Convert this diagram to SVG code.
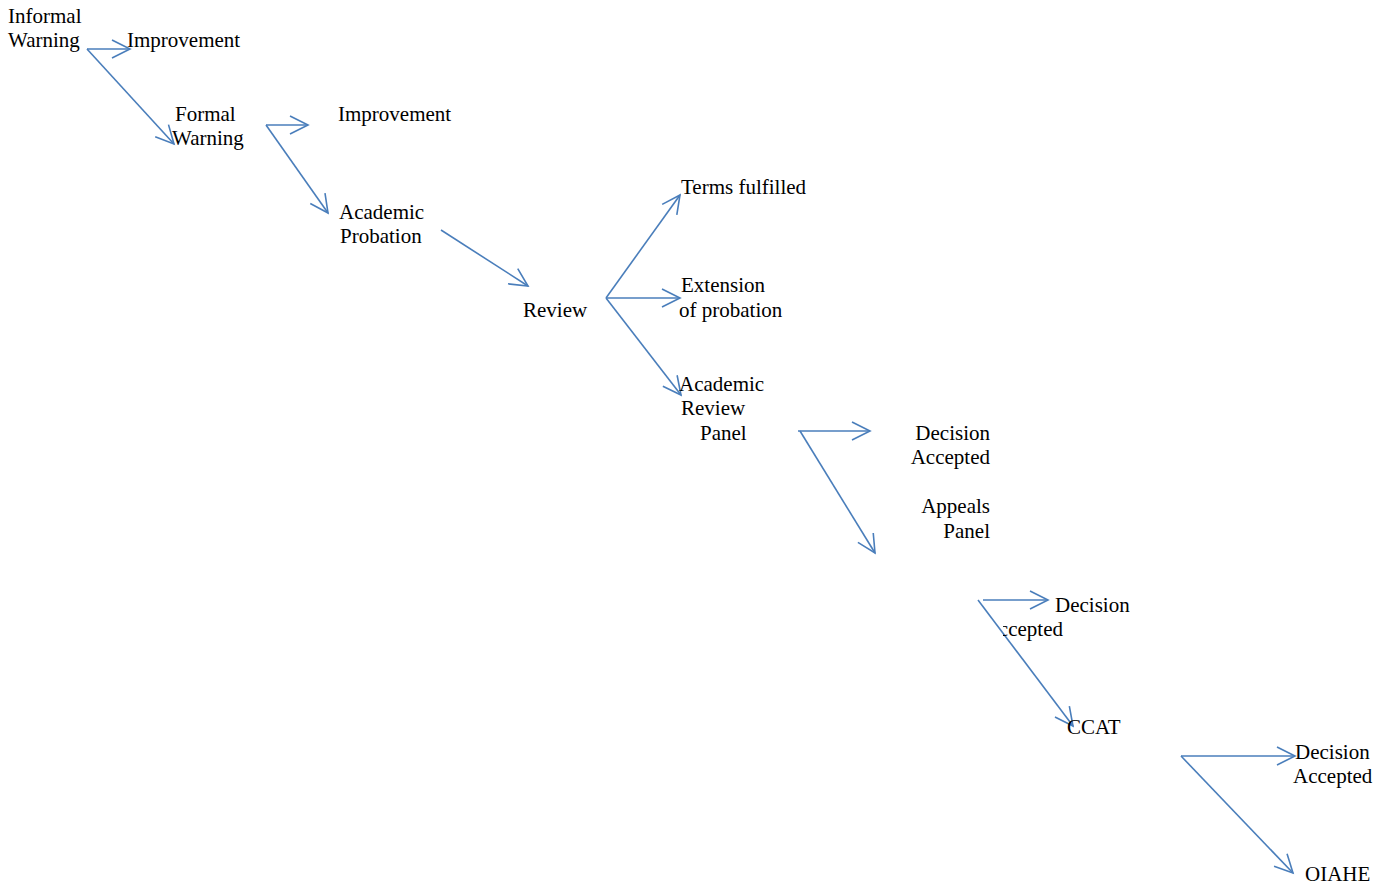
<svg xmlns="http://www.w3.org/2000/svg" width="1393" height="891" viewBox="0 0 1393 891">
<style>
text{font-family:"Liberation Serif","Times New Roman",serif;font-size:21px;fill:#000}
.c line{stroke:#4a7ebb;stroke-width:1.6;fill:none;marker-end:url(#ah)}
.r{text-anchor:end}
</style>
<defs>
<marker id="ah" markerUnits="userSpaceOnUse" markerWidth="30" markerHeight="30" refX="20" refY="15" orient="auto" overflow="visible">
<path d="M2,6 L20,15 L2,24" fill="none" stroke="#4a7ebb" stroke-width="1.6"/>
</marker>
<clipPath id="clipAcc"><rect x="1003" y="610" width="100" height="35"/></clipPath>
</defs>
<rect width="1393" height="891" fill="#fff"/>
<g class="c" id="connectors">
<line x1="87" y1="49" x2="130" y2="49"/>
<line x1="87" y1="49" x2="174" y2="144"/>
<line x1="266" y1="125" x2="308" y2="125"/>
<line x1="266" y1="125" x2="328" y2="213"/>
<line x1="441" y1="230" x2="528" y2="286"/>
<line x1="606" y1="298" x2="680" y2="195"/>
<line x1="606" y1="298" x2="680" y2="298"/>
<line x1="606" y1="298" x2="681" y2="395"/>
<line x1="798" y1="431" x2="870" y2="431"/>
<line x1="800" y1="431" x2="875" y2="553"/>
<line x1="983" y1="600" x2="1048" y2="600"/>
<line x1="978" y1="600" x2="1073" y2="726"/>
<line x1="1181" y1="756" x2="1295" y2="756"/>
<line x1="1181" y1="756" x2="1293" y2="873"/>
</g>
<g id="informal-warning"><text x="8" y="23">Informal</text><text x="8" y="47">Warning</text></g>
<g id="improvement-1"><text x="127" y="47">Improvement</text></g>
<g id="formal-warning"><text x="175" y="121">Formal</text><text x="172" y="145">Warning</text></g>
<g id="improvement-2"><text x="338" y="121">Improvement</text></g>
<g id="academic-probation"><text x="339" y="219">Academic</text><text x="340" y="243">Probation</text></g>
<g id="review"><text x="523" y="317">Review</text></g>
<g id="terms-fulfilled"><text x="681" y="194">Terms fulfilled</text></g>
<g id="extension"><text x="681" y="292">Extension</text><text x="679" y="317">of probation</text></g>
<g id="academic-review-panel"><text x="679" y="391">Academic</text><text x="681" y="415">Review</text><text x="700" y="440">Panel</text></g>
<g id="decision-accepted-1"><text class="r" x="990" y="440">Decision</text><text class="r" x="990" y="464">Accepted</text></g>
<g id="appeals-panel"><text class="r" x="990" y="513">Appeals</text><text class="r" x="990" y="538">Panel</text></g>
<g id="decision-accepted-2"><text x="1055" y="612">Decision</text><text class="r" x="1063" y="636" clip-path="url(#clipAcc)">Accepted</text></g>
<g id="ccat"><text x="1067" y="734">CCAT</text></g>
<g id="decision-accepted-3"><text x="1295" y="759">Decision</text><text x="1293" y="783">Accepted</text></g>
<g id="oiahe"><text x="1305" y="881">OIAHE</text></g>
</svg>
